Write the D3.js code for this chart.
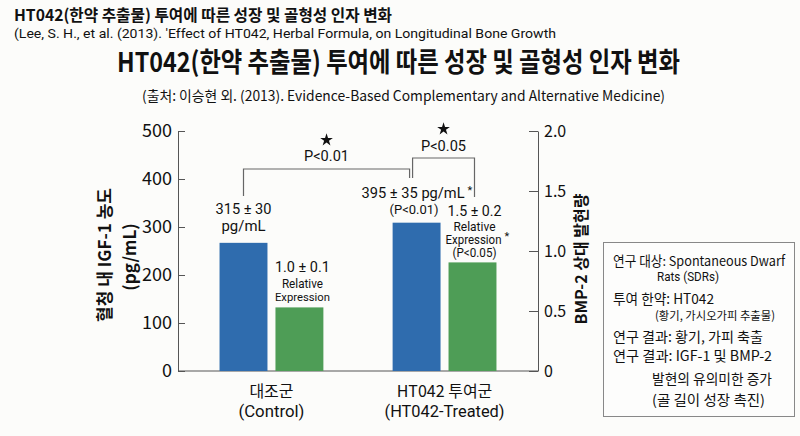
<!DOCTYPE html>
<html>
<head>
<meta charset="utf-8">
<script src="https://cdn.jsdelivr.net/npm/d3@7"></script>
<style>
  body { margin: 0; background: #fcfcfa; }
  svg { display: block; }
  text { font-family: "Noto Sans CJK KR", "Noto Sans", sans-serif; fill: #111; }
  .lat { font-family: Roboto, "Noto Sans CJK KR", sans-serif; }
</style>
</head>
<body>
<div id="chart"></div>
<script>
"use strict";

// values
let groups = ["대조군", "HT042 투여군"];
let groupsEn = ["(Control)", "(HT042-Treated)"];
let igf1Values = [267, 309];       // pg/mL, left axis
let bmp2Values = [0.53, 0.905];    // relative, right axis
let leftTicks = [0, 100, 200, 300, 400, 500];
let rightTicks = [0, 0.5, 1.0, 1.5, 2.0];

let igf1Labels = [["315 ± 30", "pg/mL"], ["395 ± 35 pg/mL", "(P<0.01)"]];
let bmp2Labels = [["1.0 ± 0.1", "Relative", "Expression"], ["1.5 ± 0.2", "Relative", "Expression", "(P<0.05)"]];
let sigLabels = ["P<0.01", "P<0.05"];

let infoLines = [
	"연구 대상: Spontaneous Dwarf",
	"Rats (SDRs)",
	"투여 한약: HT042",
	"(황기, 가시오가피 추출물)",
	"연구 결과: 황기, 가피 축출",
	"연구 결과: IGF-1 및 BMP-2",
	"발현의 유의미한 증가",
	"(골 길이 성장 촉진)"
];

let width = 800;
let height = 436;
let plot = { left: 178, right: 538, top: 131, bottom: 371 };

// shrink the font until the natural width is at most maxW, then squeeze to w
function fit(sel, w, maxW)
{
	let node = sel.node();
	let size = parseFloat(sel.attr("font-size"));
	let len = node.getComputedTextLength();
	if (maxW && len > maxW)
	{
		sel.attr("font-size", size * maxW / len);
		len = node.getComputedTextLength();
	}
	if (w && Math.abs(len - w) > 0.5)
	{
		sel.attr("textLength", w).attr("lengthAdjust", "spacingAndGlyphs");
	}
	return sel;
}

let svg = d3.select("#chart")
			.append("svg")
			.attr("width", width)
			.attr("height", height);

svg.append("rect")
	.attr("width", width)
	.attr("height", height)
	.attr("fill", "#fcfcfa");

// headings
fit(svg.append("text")
	.attr("x", 14).attr("y", 20.5)
	.attr("font-size", 16).attr("font-weight", "bold")
	.text("HT042(한약 추출물) 투여에 따른 성장 및 골형성 인자 변화"), 378);

fit(svg.append("text")
	.attr("class", "lat")
	.attr("x", 14).attr("y", 37.5)
	.attr("font-size", 13)
	.attr("fill", "#222")
	.text("(Lee, S. H., et al. (2013). 'Effect of HT042, Herbal Formula, on Longitudinal Bone Growth"), 542);

fit(svg.append("text")
	.attr("x", 117).attr("y", 72)
	.attr("font-size", 27).attr("font-weight", "bold")
	.text("HT042(한약 추출물) 투여에 따른 성장 및 골형성 인자 변화"), 563);

fit(svg.append("text")
	.attr("x", 142).attr("y", 100.5)
	.attr("font-size", 14)
	.attr("fill", "#222")
	.text("(출처: 이승현 외. (2013). Evidence-Based Complementary and Alternative Medicine)"), 523);

// scales
let x = d3.scaleBand()
		.domain(groups)
		.range([plot.left, plot.right])
		.paddingInner(0.4)
		.paddingOuter(0.24);

let xSub = d3.scaleBand()
		.domain(["igf1", "bmp2"])
		.range([0, x.bandwidth()])
		.paddingInner(0.143);

let yLeft = d3.scaleLinear().domain([0, 500]).range([plot.bottom, plot.top]);
let yRight = d3.scaleLinear().domain([0, 2]).range([plot.bottom, plot.top]);

// axes
let axisColor = "#555";

let gLeft = svg.append("g")
		.attr("transform", "translate(" + plot.left + ",0)")
		.call(d3.axisLeft(yLeft).tickValues(leftTicks).tickSize(-7).tickSizeOuter(0).tickPadding(6));

let gRight = svg.append("g")
		.attr("transform", "translate(" + plot.right + ",0)")
		.call(d3.axisRight(yRight).tickValues(rightTicks).tickSize(-9).tickSizeOuter(0).tickPadding(6)
			.tickFormat(function(d) { return d === 0 ? "0" : d3.format(".1f")(d); }));

[gLeft, gRight].forEach(function(g)
{
	g.select(".domain").attr("stroke", axisColor);
	g.selectAll(".tick line").attr("stroke", axisColor);
	g.selectAll(".tick text")
		.attr("fill", "#111")
		.style("font-family", "'Noto Sans CJK KR', sans-serif");
});
gLeft.selectAll(".tick text").attr("font-size", 18);
gRight.selectAll(".tick text").attr("font-size", 16);

svg.append("line")
	.attr("x1", plot.left).attr("x2", plot.right)
	.attr("y1", plot.bottom).attr("y2", plot.bottom)
	.attr("stroke", axisColor);

// axis titles
svg.append("text")
	.attr("transform", "translate(111,255) rotate(-90)")
	.attr("text-anchor", "middle")
	.attr("font-size", 17).attr("font-weight", "bold")
	.text("혈청 내 IGF-1 농도");

svg.append("text")
	.attr("transform", "translate(136,257) rotate(-90)")
	.attr("text-anchor", "middle")
	.attr("font-size", 17).attr("font-weight", "bold")
	.text("(pg/mL)");

svg.append("text")
	.attr("transform", "translate(587,259) rotate(-90)")
	.attr("text-anchor", "middle")
	.attr("font-size", 16).attr("font-weight", "bold")
	.text("BMP-2 상대 발현량");

// bars
let blue = "#2f6cae";
let green = "#4e9d56";

let bars = svg.append("g");
groups.forEach(function(gName, i)
{
	bars.append("rect")
		.attr("x", x(gName) + xSub("igf1"))
		.attr("y", yLeft(igf1Values[i]))
		.attr("width", xSub.bandwidth())
		.attr("height", yLeft(0) - yLeft(igf1Values[i]))
		.attr("fill", blue);

	bars.append("rect")
		.attr("x", x(gName) + xSub("bmp2"))
		.attr("y", yRight(bmp2Values[i]))
		.attr("width", xSub.bandwidth())
		.attr("height", yRight(0) - yRight(bmp2Values[i]))
		.attr("fill", green);
});

// category labels
let groupsEnWidths = [66, 120];
groups.forEach(function(gName, i)
{
	let cx = x(gName) + x.bandwidth() / 2;
	svg.append("text")
		.attr("x", cx).attr("y", 397)
		.attr("text-anchor", "middle")
		.attr("font-size", 16)
		.text(gName);
	fit(svg.append("text")
		.attr("class", "lat")
		.attr("x", cx).attr("y", 417)
		.attr("text-anchor", "middle")
		.attr("font-size", 16)
		.text(groupsEn[i]), groupsEnWidths[i], groupsEnWidths[i] * 1.04);
});

// value labels above bars: offset from bar top, font size, width in reference
let igf1Layout = [
	{ dx: [0, 0], offsets: [-29, -12], sizes: [16, 16], widths: [56, 44] },
	{ dx: [-3.5, -2.5], offsets: [-25, -9], sizes: [16, 14], widths: [103, 49] }
];
let bmp2Layout = [
	{ dx: [3, 3, 3], offsets: [-35, -19, -6], sizes: [16, 13, 13], widths: [55, 41, 55] },
	{ dx: [2, 2, 1, 2], offsets: [-46, -31, -18, -5], sizes: [16, 13, 13, 13], widths: [54, 42, 56, 44] }
];

function drawLabel(cx, top, lines, layout, starLine)
{
	lines.forEach(function(line, j)
	{
		let t = svg.append("text")
			.attr("class", "lat")
			.attr("x", cx + layout.dx[j])
			.attr("y", top + layout.offsets[j])
			.attr("text-anchor", "middle")
			.attr("font-size", layout.sizes[j])
			.text(line);
		fit(t, layout.widths[j], layout.widths[j] * 1.04);

		if (j === starLine)
		{
			// raised asterisk right after the line
			let end = cx + layout.dx[j] + layout.widths[j] / 2;
			svg.append("text")
				.attr("class", "lat")
				.attr("x", end + 3)
				.attr("y", top + layout.offsets[j] - 4)
				.attr("font-size", 11)
				.text("*");
		}
	});
}

groups.forEach(function(gName, i)
{
	let cxBlue = x(gName) + xSub("igf1") + xSub.bandwidth() / 2;
	let cxGreen = x(gName) + xSub("bmp2") + xSub.bandwidth() / 2;
	drawLabel(cxBlue, yLeft(igf1Values[i]), igf1Labels[i], igf1Layout[i], i === 1 ? 0 : -1);
	drawLabel(cxGreen, yRight(bmp2Values[i]), bmp2Labels[i], bmp2Layout[i], i === 1 ? 2 : -1);
});

// significance brackets
let bracketColor = "#666";
let ctrlBlue = x(groups[0]) + xSub("igf1") + xSub.bandwidth() / 2;
let trtBlue = x(groups[1]) + xSub("igf1") + xSub.bandwidth() / 2;
let trtGreen = x(groups[1]) + xSub("bmp2") + xSub.bandwidth() / 2;

let brackets = [
	{ x1: ctrlBlue, x2: trtBlue - 7, top: 169, y1: 196, y2: 178, labelY: 161, starY: 140 },
	{ x1: trtBlue - 4, x2: trtGreen + 2, top: 158, y1: 178, y2: 197, labelY: 151, starY: 129 }
];

brackets.forEach(function(b, i)
{
	svg.append("path")
		.attr("d", "M" + b.x1 + "," + b.y1 + "V" + b.top + "H" + b.x2 + "V" + b.y2)
		.attr("fill", "none")
		.attr("stroke", bracketColor)
		.attr("stroke-width", 1.2);

	let mid = (b.x1 + b.x2) / 2;
	svg.append("path")
		.attr("transform", "translate(" + mid + "," + b.starY + ")")
		.attr("d", d3.symbol().type(d3.symbolStar).size(50)())
		.attr("fill", "#111");

	fit(svg.append("text")
		.attr("class", "lat")
		.attr("x", mid).attr("y", b.labelY)
		.attr("text-anchor", "middle")
		.attr("font-size", 17)
		.text(sigLabels[i]), 45, 47);
});

// info box
svg.append("rect")
	.attr("x", 603.5).attr("y", 242.5)
	.attr("width", 191).attr("height", 174)
	.attr("fill", "#fdfdfc")
	.attr("stroke", "#888")
	.attr("stroke-width", 1);

let infoLayout = [
	{ x: 613, y: 266, size: 14, w: 172 },
	{ x: 657, y: 281, size: 13, w: 62, lat: true },
	{ x: 613, y: 304, size: 14, w: 101 },
	{ x: 655, y: 320, size: 12, w: 120 },
	{ x: 613, y: 342, size: 14, w: 150 },
	{ x: 613, y: 361, size: 14, w: 159 },
	{ x: 652, y: 384, size: 14, w: 120 },
	{ x: 652, y: 404.5, size: 14, w: 113 }
];

infoLines.forEach(function(line, i)
{
	fit(svg.append("text")
		.attr("class", infoLayout[i].lat ? "lat" : null)
		.attr("x", infoLayout[i].x)
		.attr("y", infoLayout[i].y)
		.attr("font-size", infoLayout[i].size)
		.text(line), infoLayout[i].w, infoLayout[i].w * 1.04);
});
</script>
</body>
</html>
